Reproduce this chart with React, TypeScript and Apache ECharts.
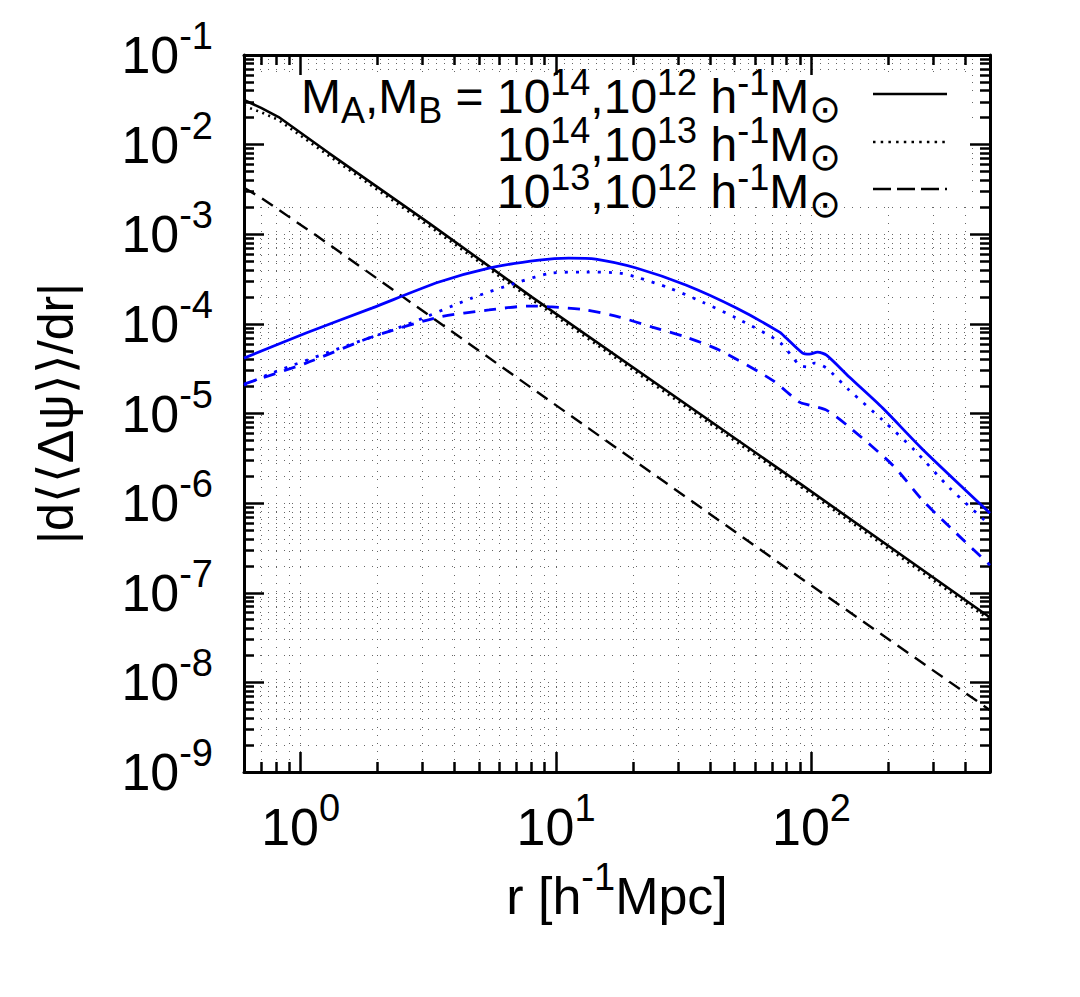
import React, { useEffect, useRef } from 'react';
import * as echarts from 'echarts';

const FONT = '"Liberation Sans", Arial, Helvetica, sans-serif';

// r [h^-1 Mpc] and |d<<Δψ>>/dr| values
const rBlackSolid = [0.6, 0.7, 0.82, 1.29, 3.18, 8.05, 89.7, 443, 500];
const vBlackSolid = [3.15e-2, 2.57e-2, 2.03e-2, 8.05e-3, 1.33e-3, 1.99e-4, 1.67e-6, 6.76e-8, 5.3e-8];

const rBlackDotted = [0.6, 0.7, 0.82, 1.29, 3.18, 8.05, 89.7, 500];
const vBlackDotted = [2.7e-2, 2.3e-2, 1.88e-2, 7.5e-3, 1.24e-3, 1.86e-4, 1.56e-6, 4.95e-8];

const rBlackDashed = [0.6, 0.7, 1.145, 8.58, 89.7, 128.7, 500];
const vBlackDashed = [3.3e-3, 2.55e-3, 9.8e-4, 1.68e-5, 1.49e-7, 7.3e-8, 4.9e-9];

const rBlueSolid = [0.6, 1.05, 1.9, 3.48, 5.46, 8.58, 11.2, 14.3, 20.6, 32.2, 50.8, 75, 79.6, 92.3, 98.2, 105.6, 114.5, 140.6, 190, 272, 500];
const vBlueSolid = [4.15e-5, 7.9e-5, 1.5e-4, 2.93e-4, 4.2e-4, 5.15e-4, 5.42e-4, 5.28e-4, 4.2e-4, 2.71e-4, 1.5e-4, 8.09e-5, 6.95e-5, 4.72e-5, 4.6e-5, 4.84e-5, 4.48e-5, 2.55e-5, 1.15e-5, 4.0e-6, 7.73e-7];

const rBlueDotted = [0.6, 0.77, 1.54, 2.58, 4.68, 7.14, 9.62, 13.1, 17.7, 20.6, 27.8, 37.4, 50.8, 75, 89.7, 98.2, 102.5, 114.5, 140.6, 190, 253, 348, 500];
const vBlueDotted = [2.07e-5, 2.82e-5, 5.8e-5, 9.7e-5, 1.94e-4, 2.93e-4, 3.69e-4, 3.79e-4, 3.69e-4, 3.33e-4, 2.51e-4, 1.75e-4, 1.16e-4, 6.26e-5, 3.47e-5, 3.3e-5, 3.65e-5, 3.21e-5, 1.82e-5, 8.43e-6, 3.91e-6, 1.47e-6, 5.67e-7];

const rBlueDashed = [0.6, 1.05, 1.9, 3.48, 5.46, 7.83, 9.62, 13.1, 17.7, 23.8, 32.2, 43.5, 70.2, 89.7, 98.2, 114.5, 140.6, 208, 272, 348, 500];
const vBlueDashed = [2.13e-5, 3.65e-5, 7.13e-5, 1.19e-4, 1.43e-4, 1.58e-4, 1.55e-4, 1.43e-4, 1.19e-4, 9.2e-5, 7.13e-5, 5.1e-5, 2.36e-5, 1.34e-5, 1.24e-5, 1.09e-5, 7.05e-6, 2.65e-6, 1.08e-6, 5.4e-7, 2.03e-7];

const legendLabels = [
  '{n|M}{sub|A}{n|,M}{sub|B}{n| = 10}{sup|14}{n|,10}{sup|12}{n| h}{sup|-1}{n|M}{sym|⊙}',
  '{n|10}{sup|14}{n|,10}{sup|13}{n| h}{sup|-1}{n|M}{sym|⊙}',
  '{n|10}{sup|13}{n|,10}{sup|12}{n| h}{sup|-1}{n|M}{sym|⊙}',
];
const xName = '{b|r [h}{s|-1}{b|Mpc]}';
const yName = '|d⟨⟨Δψ⟩⟩/dr|';

const X_MIN = 0.6;
const X_MAX = 500;
const Y_MIN = 1e-9;
const Y_MAX = 1e-1;

const pairs = (r: number[], v: number[]) => r.map((x, i) => [x, v[i]]);

const tickRich = {
  b: { fontSize: 52, lineHeight: 76, fontFamily: FONT, color: '#000', verticalAlign: 'middle' },
  s: { fontSize: 38, fontFamily: FONT, color: '#000', verticalAlign: 'top' },
};

const tickLabel = (v: number) => {
  const e = Math.round(Math.log10(v));
  return `{b|10}{s|${e}}`;
};

export default function App() {
  const ref = useRef<HTMLDivElement>(null);
  useEffect(() => {
    if (!ref.current) return;
    const chart = echarts.init(ref.current, undefined, { renderer: 'svg' });
    const black = '#000';
    const blue = '#0000ff';
    const gridStyle = { color: '#666', width: 1, type: [1, 7] as any };
    const tickStyle = { color: black, width: 2.5 };
    const lineAxis = { show: true, onZero: false, lineStyle: { color: black, width: 3 } };

    const mkX = (extra: any) => ({
      type: 'log', logBase: 10, min: X_MIN, max: X_MAX, gridIndex: 0, ...extra,
    });
    const mkY = (extra: any) => ({
      type: 'log', logBase: 10, min: Y_MIN, max: Y_MAX, gridIndex: 0, ...extra,
    });

    const line = (name: string, data: number[][], color: string, type: any, width: number, smooth: number) => ({
      name, type: 'line', data, xAxisIndex: 0, yAxisIndex: 0, z: 5,
      showSymbol: false, symbol: 'none', smooth,
      lineStyle: { color, width, type, cap: 'butt' },
    });

    const legendRows = [94, 142, 189];
    const legendDash: any[] = [null, [2.5, 5.2], [18, 6]];

    chart.setOption({
      animation: false,
      backgroundColor: '#fff',
      grid: { left: 244, right: 90, top: 55, bottom: 225, containLabel: false },
      xAxis: [
        mkX({
          position: 'bottom', z: 4,
          axisLine: lineAxis,
          axisTick: { show: true, inside: true, length: 20, lineStyle: tickStyle },
          minorTick: { show: true, splitNumber: 9, length: 10, lineStyle: tickStyle },
          axisLabel: { show: true, margin: 17, formatter: tickLabel, rich: tickRich, showMinLabel: false, showMaxLabel: false, interval: 0 },
          splitLine: { show: false },
          minorSplitLine: { show: false },
          name: xName, nameLocation: 'middle', nameGap: 50,
          nameTextStyle: { rich: tickRich, verticalAlign: 'top' },
        }),
        mkX({
          position: 'top', z: 4,
          axisLine: lineAxis,
          axisTick: { show: true, inside: true, length: 20, lineStyle: tickStyle },
          minorTick: { show: true, splitNumber: 9, length: 10, lineStyle: tickStyle },
          axisLabel: { show: false },
          splitLine: { show: false },
        }),
        mkX({
          position: 'bottom', z: 0,
          axisLine: { show: false },
          axisTick: { show: false },
          minorTick: { show: false, splitNumber: 9 },
          axisLabel: { show: false },
          splitLine: { show: true, lineStyle: gridStyle },
          minorSplitLine: { show: true, lineStyle: gridStyle },
        }),
      ],
      yAxis: [
        mkY({
          position: 'left', z: 4,
          axisLine: lineAxis,
          axisTick: { show: true, inside: true, length: 20, lineStyle: tickStyle },
          minorTick: { show: true, splitNumber: 9, length: 10, lineStyle: tickStyle },
          axisLabel: { show: true, margin: 31, formatter: tickLabel, rich: tickRich, interval: 0 },
          splitLine: { show: false },
          minorSplitLine: { show: false },
          name: yName, nameLocation: 'middle', nameGap: 158, nameRotate: 90,
          nameTextStyle: { fontSize: 50, lineHeight: 60, fontFamily: FONT, color: black },
        }),
        mkY({
          position: 'right', z: 4,
          axisLine: lineAxis,
          axisTick: { show: true, inside: true, length: 20, lineStyle: tickStyle },
          minorTick: { show: true, splitNumber: 9, length: 10, lineStyle: tickStyle },
          axisLabel: { show: false },
          splitLine: { show: false },
        }),
        mkY({
          position: 'left', z: 0,
          axisLine: { show: false },
          axisTick: { show: false },
          minorTick: { show: false, splitNumber: 9 },
          axisLabel: { show: false },
          splitLine: { show: true, lineStyle: gridStyle },
          minorSplitLine: { show: true, lineStyle: gridStyle },
        }),
      ],
      series: [
        line('black solid', pairs(rBlackSolid, vBlackSolid), black, 'solid', 2.6, 0),
        line('black dotted', pairs(rBlackDotted, vBlackDotted), black, [2, 4.5], 2.6, 0),
        line('black dashed', pairs(rBlackDashed, vBlackDashed), black, [13, 8], 2.4, 0),
        line('blue solid', pairs(rBlueSolid, vBlueSolid), blue, 'solid', 2.8, 0.25),
        line('blue dotted', pairs(rBlueDotted, vBlueDotted), blue, [3, 8], 2.8, 0.25),
        line('blue dashed', pairs(rBlueDashed, vBlueDashed), blue, [12, 9], 2.8, 0.25),
      ],
      graphic: [
        {
          type: 'rect', z: 1, silent: true,
          shape: { x: 256, y: 72, width: 711, height: 133 },
          style: { fill: '#fff' },
        },
        ...legendLabels.map((t, i) => ({
          type: 'text', z: 6, x: 841, y: legendRows[i] + 2,
          style: {
            text: t, align: 'right', verticalAlign: 'middle', fill: black,
            rich: {
              n: { fontSize: 48, lineHeight: 46, fontFamily: FONT, fill: black, verticalAlign: 'middle' },
              sup: { fontSize: 36, height: 18, fontFamily: FONT, fill: black, verticalAlign: 'top' },
              sub: { fontSize: 36, height: 18, fontFamily: FONT, fill: black, verticalAlign: 'bottom' },
              sym: { fontSize: 38, height: 20, fontFamily: '"DejaVu Sans", sans-serif', fill: black, verticalAlign: 'bottom' },
            },
          },
        })),
        ...legendRows.map((y, i) => ({
          type: 'line', z: 6,
          shape: { x1: 873, y1: y, x2: 947, y2: y },
          style: { stroke: black, lineWidth: 2.6, lineDash: legendDash[i] || undefined },
        })),
      ],
    });
    return () => chart.dispose();
  }, []);
  return <div ref={ref} style={{ position: 'fixed', left: 0, top: 0, width: 1080, height: 997 }} />;
}
